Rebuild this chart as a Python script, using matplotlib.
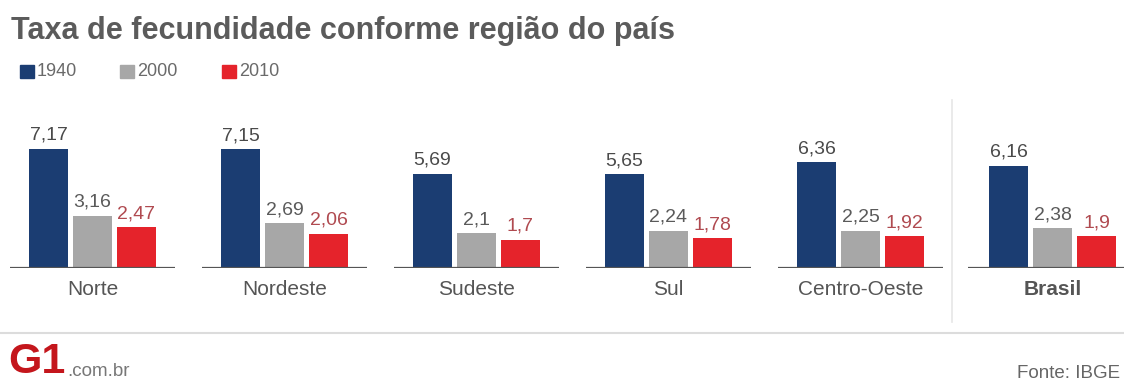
import matplotlib
matplotlib.use("Agg")
import matplotlib.pyplot as plt
from matplotlib.lines import Line2D
from matplotlib.patches import Rectangle

regions = ["Norte", "Nordeste", "Sudeste", "Sul", "Centro-Oeste", "Brasil"]
years = ["1940", "2000", "2010"]
v1940 = [7.17, 7.15, 5.69, 5.65, 6.36, 6.16]
v2000 = [3.16, 2.69, 2.10, 2.24, 2.25, 2.38]
v2010 = [2.47, 2.06, 1.70, 1.78, 1.92, 1.90]
labels1940 = ["7,17", "7,15", "5,69", "5,65", "6,36", "6,16"]
labels2000 = ["3,16", "2,69", "2,1", "2,24", "2,25", "2,38"]
labels2010 = ["2,47", "2,06", "1,7", "1,78", "1,92", "1,9"]

colors = ["#1b3d72", "#a7a7a7", "#e5232b"]
label_colors = ["#4a4a4a", "#5a5a5a", "#b04a50"]
FONT = ["Liberation Sans", "DejaVu Sans"]

W, H = 1124, 383
fig = plt.figure(figsize=(W / 100, H / 100), dpi=100)
fig.patch.set_facecolor("white")

# axes geometry (pixel-based layout)
px_unit = 192.0
x_left_px = 92.5
base_y_px = 268
y_scale = 16.6  # px per value unit
ymax = 8.0
ax = fig.add_axes([0, (H - base_y_px) / H, 1, ymax * y_scale / H])
ax.set_xlim(-x_left_px / px_unit, (W - x_left_px) / px_unit)
ax.set_ylim(0, ymax)
ax.axis("off")

bw = 39 / px_unit
step = 44 / px_unit
series = [v1940, v2000, v2010]
lbls = [labels1940, labels2000, labels2010]
for i, reg in enumerate(regions):
    for k in range(3):
        x = i + (k - 1) * step
        ax.bar(x, series[k][i], width=bw, color=colors[k], zorder=2)
        ax.text(x, series[k][i] + 0.3, lbls[k][i], ha="center", va="bottom",
                fontsize=14, color=label_colors[k], family=FONT)
    lo, hi = (-0.43, 0.43) if i < 5 else (-0.44, 0.38)
    ax.plot([i + lo, i + hi], [0, 0], color="#555555", lw=1.6, zorder=3,
            solid_capstyle="butt")
    ax.text(i, -0.75, reg, ha="center", va="top", fontsize=15,
            color="#555555", family=FONT,
            fontweight="bold" if reg == "Brasil" else "normal")

# title
fig.text(11 / W, 1 - 31 / H, "Taxa de fecundidade conforme região do país",
         fontsize=22, fontweight="bold", color="#5b5b5b", family=FONT,
         va="center", ha="left")

# legend
leg_x = [20, 120, 222]
for k, yr in enumerate(years):
    fig.patches.append(Rectangle(((leg_x[k]) / W, 1 - 78 / H), 14 / W, 13 / H,
                                 transform=fig.transFigure, color=colors[k]))
    fig.text((leg_x[k] + 17) / W, 1 - 71 / H, yr, fontsize=13,
             color="#6a6a6a", family=FONT, va="center", ha="left")

# separator lines
fig.lines.append(Line2D([952 / W, 952 / W], [1 - 100 / H, 1 - 322 / H],
                        transform=fig.transFigure, color="#e6e6e6", lw=1.2))
fig.lines.append(Line2D([0, 1], [1 - 333 / H, 1 - 333 / H],
                        transform=fig.transFigure, color="#dcdcdc", lw=1.5))

# footer
fig.text(8 / W, 1 - 362 / H, "G1", fontsize=31, fontweight="heavy",
         color="#c4161c", family=FONT, va="center", ha="left")
fig.text(67 / W, 1 - 372 / H, ".com.br", fontsize=13.5, color="#777777",
         family=FONT, va="center", ha="left")
fig.text(1120 / W, 1 - 373 / H, "Fonte: IBGE", fontsize=13.5,
         color="#666666", family=FONT, va="center", ha="right")

fig.savefig("out.png", dpi=100, facecolor="white")
